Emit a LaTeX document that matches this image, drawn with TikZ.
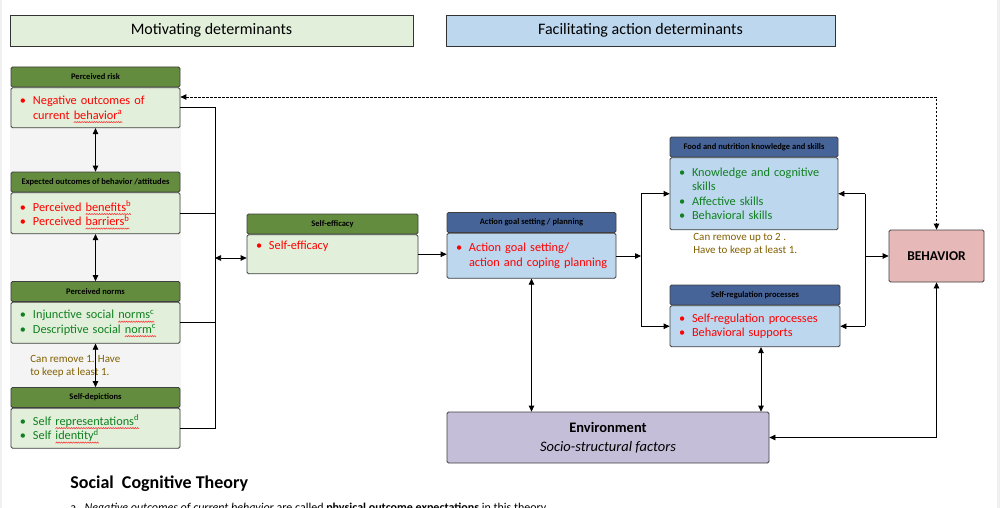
\documentclass[tikz,border=0pt]{standalone}
\usepackage{fontspec}
\setmainfont{Carlito}
\usepackage{xcolor}
\usetikzlibrary{positioning,arrows.meta}

\definecolor{lightgreen}{RGB}{226,239,218}
\definecolor{darkgreen}{RGB}{99,140,62}
\definecolor{lightblue}{RGB}{189,215,238}
\definecolor{darkblue}{RGB}{70,100,152}
\definecolor{behavcol}{RGB}{230,185,184}
\definecolor{envcol}{RGB}{196,190,217}
\definecolor{textgreen}{RGB}{16,128,32}
\definecolor{notebrown}{RGB}{128,96,0}

\hyphenpenalty=10000
% red squiggle of the spell checker under a word
\newsavebox{\spellbox}
\newcommand\squig{\hbox to 2.4pt{\special{pdf:content 1 0.2 0.2 RG 0.55 w 0 0 m 1.2 1.3 l 2.4 0 l S}\hfil}}
\newcommand\spell[1]{\sbox\spellbox{#1}\rlap{\raisebox{-3.6pt}[0pt][0pt]{\hbox to \wd\spellbox{\xleaders\squig\hfil}}}\usebox\spellbox}
\newcommand{\bul}{\makebox[14pt][l]{\hspace{1pt}\textbullet}}
\newcommand{\ind}{\hspace*{14pt}}

\begin{document}
\begin{tikzpicture}[x=1pt, y=-1pt, >={Triangle[length=6pt,width=5.5pt]},
	line width=0.75pt,
	banner/.style={rectangle, draw=black!80, minimum height=31pt, inner sep=0pt, font=\fontsize{16}{19}\selectfont},
	hdg/.style={rectangle, rounded corners=1.5pt, draw=black!75, minimum height=20pt, inner sep=0pt, font=\fontsize{8.5}{10}\selectfont\bfseries},
	greenhead/.style={hdg, fill=darkgreen},
	bluehead/.style={hdg, fill=darkblue},
	box/.style={rectangle, rounded corners=1.5pt, draw=black!75, inner xsep=8pt, inner ysep=0pt, align=left,
		font=\fontsize{12.3}{14.5}\selectfont},
	greenbox/.style={box, fill=lightgreen},
	bluebox/.style={box, fill=lightblue},
	note/.style={align=left, inner sep=0pt, text=notebrown, font=\fontsize{11}{12.5}\selectfont}]
	\useasboundingbox (0,0) rectangle (1000,508);
	\clip (0,0) rectangle (1000,508);
	% page edges and left column band
	\fill[gray!12] (0,0) rectangle (2,508);
	\fill[gray!12] (997,0) rectangle (1000,508);
	\fill[gray!9] (10,88) rectangle (181,447);

	% banners
	\node[banner, fill=lightgreen, minimum width=403pt] (motiv) at (211.5,30.5) {Motivating determinants};
	\node[banner, fill=lightblue, minimum width=389pt] (facil) at (640.5,30.5) {Facilitating action determinants};

	% motivating determinants
	\node[greenhead, minimum width=169pt] (riskh) at (95.5,77) {Perceived risk};
	\node[greenbox, text=red, text width=153pt, minimum height=40pt, below=0pt of riskh] (riskb)
		{\bul Negative outcomes of\\ \ind current \spell{behavior\textsuperscript{a}}};
	\node[greenhead, minimum width=169pt] (exph) at (95.5,182) {Expected outcomes of behavior /attitudes};
	\node[greenbox, text=red, text width=153pt, minimum height=41pt, below=0pt of exph] (expb)
		{\bul Perceived \spell{benefits\textsuperscript{b}}\\ \bul Perceived \spell{barriers\textsuperscript{b}}};
	\node[greenhead, minimum width=169pt] (normh) at (95.5,291.5) {Perceived norms};
	\node[greenbox, text=textgreen, text width=153pt, minimum height=41pt, below=0pt of normh] (normb)
		{\bul Injunctive social \spell{norms\textsuperscript{c}}\\ \bul Descriptive social \spell{norm\textsuperscript{c}}};
	\node[greenhead, minimum width=169pt] (sdh) at (95.5,397.5) {Self-depictions};
	\node[greenbox, text=textgreen, text width=153pt, minimum height=40pt, below=0pt of sdh] (sdb)
		{\bul Self \spell{representations\textsuperscript{d}}\\ \bul Self \spell{identity\textsuperscript{d}}};
	\node[note, anchor=north west] (note1) at (30,355) {Can remove 1. Have\\to keep at least 1.};

	% self-efficacy and planning
	\node[greenhead, minimum width=171pt] (seh) at (332.5,224) {Self-efficacy};
	\node[greenbox, text=red, text width=155pt, minimum height=39pt, below=0pt of seh] (seb)
		{\bul Self-efficacy\\ \strut};
	\node[bluehead, minimum width=169pt] (ah) at (531.5,222.5) {Action goal setting / planning};
	\node[bluebox, text=red, text width=153pt, minimum height=45pt, below=0pt of ah] (ab)
		{\bul Action goal setting/\\ \ind action and coping planning};

	% facilitating determinants
	\node[bluehead, minimum width=168pt] (fh) at (754,147) {Food and nutrition knowledge and skills};
	\node[bluebox, text=textgreen, text width=152pt, minimum height=72pt, below=0pt of fh] (fb)
		{\bul Knowledge and cognitive\\ \ind skills\\ \bul Affective skills\\ \bul Behavioral skills};
	\node[note, anchor=north west] (note2) at (693,233) {Can remove up to 2 .\\Have to keep at least 1.};
	\node[bluehead, minimum width=170pt] (rh) at (755,295) {Self-regulation processes};
	\node[bluebox, text=red, text width=154pt, minimum height=41pt, below=0pt of rh] (rb)
		{\bul Self-regulation processes\\ \bul Behavioral supports};

	\node[rectangle, rounded corners=1.5pt, draw=black!75, fill=behavcol, minimum width=95pt, minimum height=52pt,
		font=\fontsize{13.5}{16}\selectfont\bfseries] (beh) at (936.5,256) {BEHAVIOR};
	\node[rectangle, rounded corners=1.5pt, draw=black!75, fill=envcol, minimum width=322pt, minimum height=51pt,
		align=center, font=\fontsize{14.5}{19}\selectfont] (env) at (608,437.5) {\textbf{Environment}\\ \textit{Socio-structural factors}};

	% connectors
	\coordinate (jL) at (215,258);
	\coordinate (jM) at (641,256);
	\coordinate (jR) at (865,256);
	\coordinate (dtop) at (936.5,97);
	\draw[<->] (riskb.south) -- (exph.north);
	\draw[<->] (expb.south) -- (normh.north);
	\draw[<->] (normb.south) -- (sdh.north);
	\draw (riskb.east) -- (riskb.east -| jL) -- (sdb.east -| jL) -- (sdb.east);
	\draw (expb.east) -- (expb.east -| jL);
	\draw (normb.east) -- (normb.east -| jL);
	\draw[<->] (jL) -- (jL -| seb.west);
	\draw[->] (seb.east) -- (seb.east -| ab.west);
	\draw[->] (ab.east |- jM) -- (jM);
	\draw (jM |- fb.west) -- (jM |- rb.west);
	\draw[->] (jM |- fb.west) -- (fb.west);
	\draw[->] (jM |- rb.west) -- (rb.west);
	\draw (jR |- fb.east) -- (jR |- rb.east);
	\draw[->] (jR |- fb.east) -- (fb.east);
	\draw[->] (jR |- rb.east) -- (rb.east);
	\draw[->] (jR) -- (beh.west);
	\draw[<->, line width=0.9pt, dash pattern=on 2.5pt off 1.5pt] (dtop -| riskb.east) -- (dtop) -- (beh.north);
	\draw[<->] (ab.south) -- (ab.south |- env.north);
	\draw[<->] ([xshift=6pt]rb.south) -- ([xshift=6pt]rb.south |- env.north);
	\draw[<->] (env.east) -| (beh.south);

	% caption
	\node[anchor=base west, inner sep=0pt, font=\fontsize{18}{21}\selectfont\bfseries] (title) at (70,488) {Social\ \ Cognitive Theory};
	\node[anchor=base west, inner sep=0pt, font=\fontsize{12}{14}\selectfont] (foot) at (70,511)
		{a.\ \ \textit{Negative outcomes of current behavior} are called \textbf{physical outcome expectations} in this theory.};
\end{tikzpicture}
\end{document}
